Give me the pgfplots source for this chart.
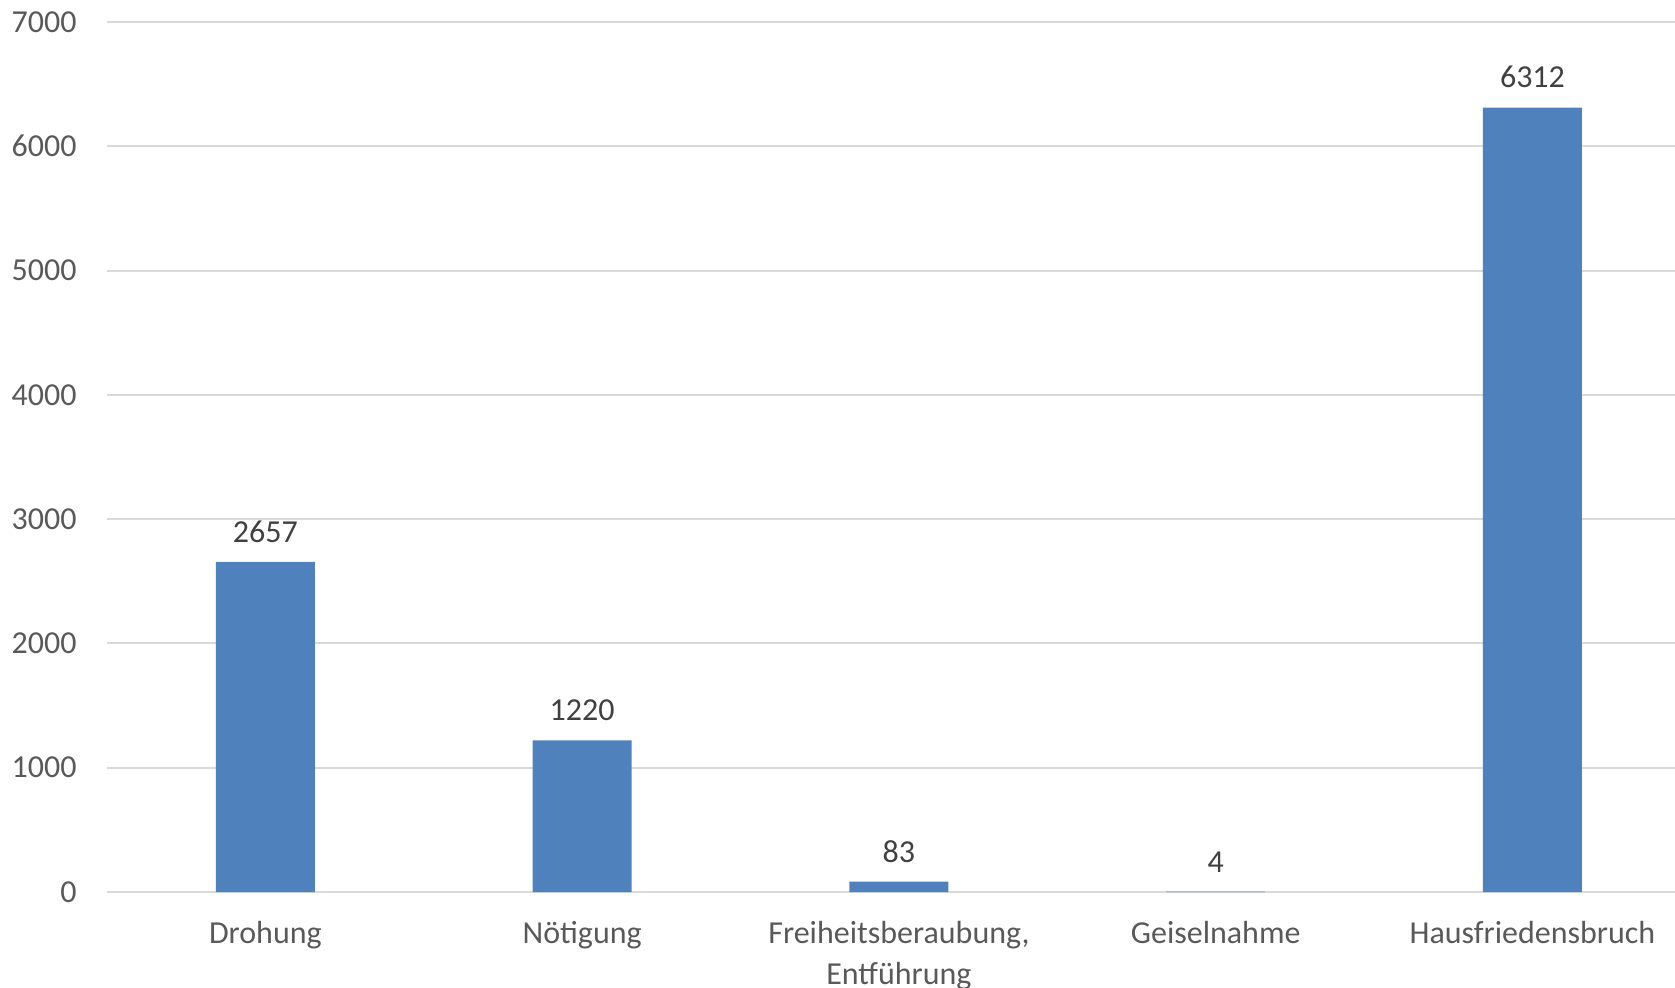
\documentclass[border=0pt]{standalone}
\usepackage{pgfplots}
\pgfplotsset{compat=1.18}
\usepackage{fontspec}
\setmainfont{Carlito}

\definecolor{barblue}{HTML}{4F81BD}
\definecolor{gridgray}{HTML}{D9D9D9}
\definecolor{ticktext}{HTML}{595959}
\definecolor{labeltext}{HTML}{404040}

\begin{document}
\begin{tikzpicture}
\path[use as bounding box] (0pt,0pt) rectangle (837.5pt,493.5pt);
\begin{axis}[
	at={(53.5pt,47.5pt)}, anchor=south west,
	scale only axis,
	width=784pt, height=435pt,
	xmin=-0.5, xmax=4.45,
	ymin=0, ymax=7000,
	ybar, bar width=49.5pt,
	axis line style={draw=none},
	major tick length=0pt,
	ytick={0,1000,...,7000},
	ymajorgrids,
	grid style={gridgray, line width=1pt},
	xtick=data,
	xticklabels={Drohung, Nötigung, {\begin{tabular}[t]{@{}c@{}}Freiheitsberaubung,\\Entführung\end{tabular}}, Geiselnahme, Hausfriedensbruch},
	/pgf/number format/1000 sep={},
	/pgf/number format/assume math mode=true,
	yticklabel style={anchor=east, inner sep=0pt, xshift=-15pt, text=ticktext, font=\fontsize{16}{19}\selectfont},
	xticklabel style={anchor=base, inner sep=0pt, yshift=-25.5pt, text=ticktext, font=\fontsize{16}{20.5}\selectfont},
	nodes near coords,
	every node near coord/.append style={anchor=south, inner sep=0pt, yshift=9.5pt, text=labeltext, font=\fontsize{16}{19}\selectfont},
	]
	\addplot[fill=barblue, draw=none] coordinates {
		(0,2657) (1,1220) (2,83) (3,4) (4,6312)
	};
\end{axis}
\end{tikzpicture}
\end{document}
